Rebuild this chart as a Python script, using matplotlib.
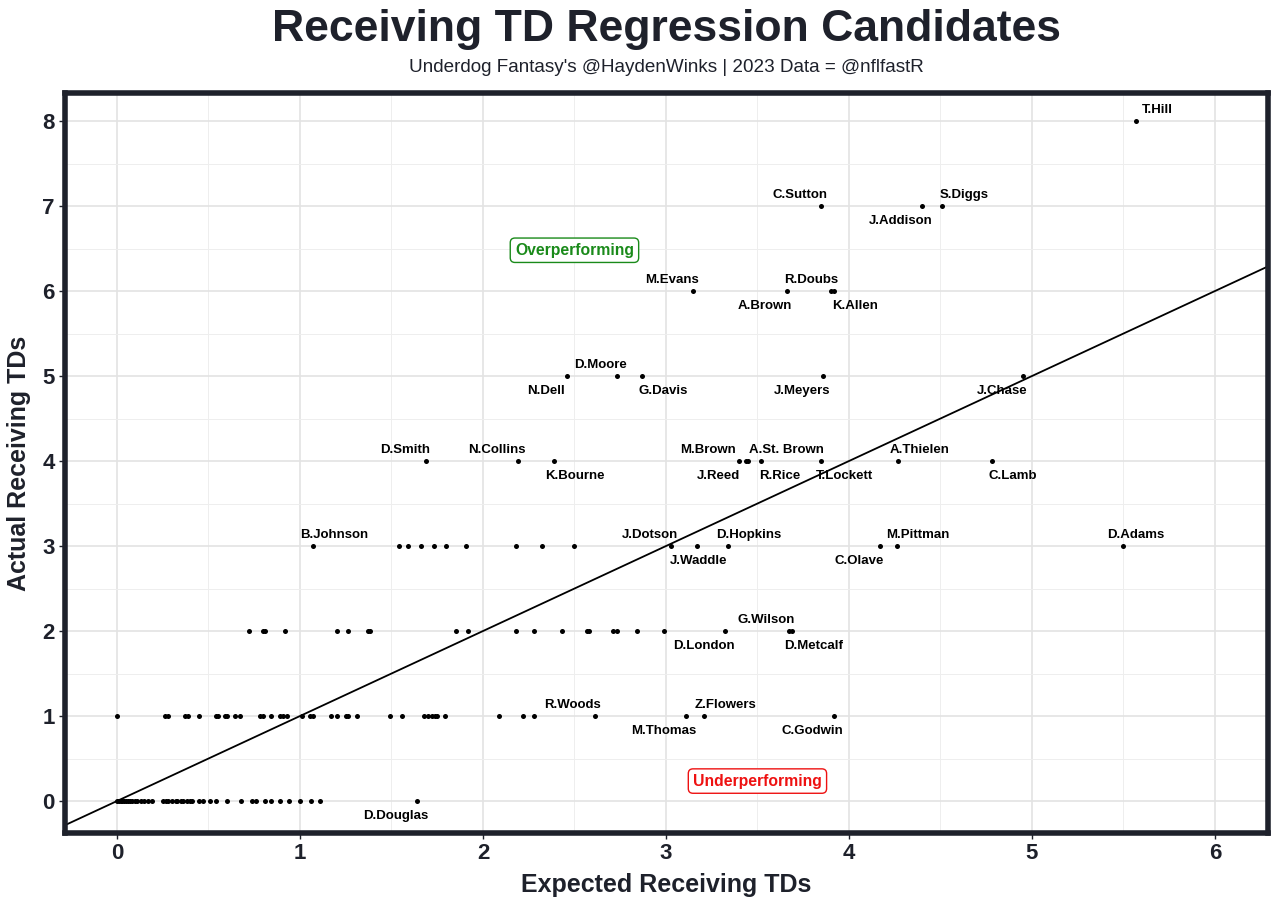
import matplotlib.pyplot as plt
import numpy as np

# labelled players: name, expected TDs, actual TDs
names = ['T.Hill', 'C.Sutton', 'S.Diggs', 'J.Addison', 'M.Evans', 'R.Doubs', 'A.Brown', 'K.Allen',
         'D.Moore', 'N.Dell', 'G.Davis', 'J.Meyers', 'J.Chase',
         'D.Smith', 'N.Collins', 'K.Bourne', 'M.Brown', 'J.Reed', 'A.St. Brown', 'R.Rice', 'T.Lockett',
         'A.Thielen', 'C.Lamb',
         'B.Johnson', 'J.Dotson', 'J.Waddle', 'D.Hopkins', 'C.Olave', 'M.Pittman', 'D.Adams',
         'G.Wilson', 'D.Metcalf', 'D.London',
         'R.Woods', 'M.Thomas', 'Z.Flowers', 'C.Godwin', 'D.Douglas']
exp_td = [5.57, 3.85, 4.51, 4.40, 3.15, 3.90, 3.66, 3.92,
          2.73, 2.46, 2.87, 3.86, 4.95,
          1.69, 2.19, 2.39, 3.40, 3.44, 3.45, 3.52, 3.85,
          4.27, 4.78,
          1.07, 3.03, 3.17, 3.34, 4.17, 4.26, 5.50,
          3.67, 3.69, 3.32,
          2.61, 3.11, 3.21, 3.92, 1.64]
act_td = [8, 7, 7, 7, 6, 6, 6, 6,
          5, 5, 5, 5, 5,
          4, 4, 4, 4, 4, 4, 4, 4,
          4, 4,
          3, 3, 3, 3, 3, 3, 3,
          2, 2, 2,
          1, 1, 1, 1, 0]

# unlabelled players, grouped by actual TDs
exp_0 = [0.0, 0.01, 0.02, 0.03, 0.04, 0.05, 0.06, 0.07, 0.08, 0.10, 0.11, 0.13, 0.15, 0.17, 0.19,
         0.25, 0.27, 0.28, 0.30, 0.32, 0.33, 0.35, 0.36, 0.38, 0.40, 0.41, 0.45, 0.47, 0.51, 0.54,
         0.60, 0.68, 0.74, 0.76, 0.81, 0.84, 0.89, 0.94, 1.00, 1.06, 1.11]
exp_1 = [0.0, 0.26, 0.28, 0.37, 0.39, 0.45, 0.54, 0.55, 0.59, 0.60, 0.645, 0.67, 0.78, 0.80, 0.84,
         0.89, 0.91, 0.93, 1.01, 1.055, 1.07, 1.17, 1.20, 1.25, 1.26, 1.31, 1.49, 1.56,
         1.68, 1.70, 1.72, 1.74, 1.75, 1.79, 2.09, 2.22, 2.28]
exp_2 = [0.72, 0.80, 0.81, 0.92, 1.20, 1.26, 1.37, 1.38, 1.85, 1.92, 2.18, 2.28, 2.43, 2.57, 2.58,
         2.71, 2.73, 2.84, 2.99]
exp_3 = [1.54, 1.59, 1.66, 1.73, 1.80, 1.91, 2.18, 2.32, 2.50]

# label offsets in pixels (dx, dy)
offsets = {'T.Hill': (21, 11), 'C.Sutton': (-21, 11), 'S.Diggs': (22, 11), 'J.Addison': (-21, -15),
           'M.Evans': (-21, 11), 'R.Doubs': (-19, 11), 'A.Brown': (-22, -15), 'K.Allen': (21, -15),
           'D.Moore': (-16, 11), 'N.Dell': (-21, -15), 'G.Davis': (21, -15), 'J.Meyers': (-21, -15),
           'J.Chase': (-21, -15), 'D.Smith': (-21, 11), 'N.Collins': (-21, 11), 'K.Bourne': (21, -15),
           'M.Brown': (-31, 11), 'J.Reed': (-28, -15), 'A.St. Brown': (38, 11), 'R.Rice': (19, -15),
           'T.Lockett': (23, -15), 'A.Thielen': (21, 11), 'C.Lamb': (21, -15), 'B.Johnson': (21, 11),
           'J.Dotson': (-21, 11), 'J.Waddle': (2, -15), 'D.Hopkins': (21, 11), 'C.Olave': (-21, -15),
           'M.Pittman': (21, 11), 'D.Adams': (12, 11), 'G.Wilson': (-22, 11), 'D.Metcalf': (21, -15),
           'D.London': (-21, -15), 'R.Woods': (-22, 11), 'M.Thomas': (-22, -15), 'Z.Flowers': (21, 11),
           'C.Godwin': (-22, -15), 'D.Douglas': (-21, -15)}

dark = '#1e212b'
plt.rcParams['font.family'] = ['Liberation Sans', 'DejaVu Sans']

fig = plt.figure(figsize=(12.8, 9.07), dpi=100)
ax = fig.add_axes([65 / 1280, 1 - 833 / 907, (1268 - 65) / 1280, (833 - 93) / 907])

ax.set_xticks(range(0, 7))
ax.set_yticks(range(0, 9))
ax.set_xticks(np.arange(-0.5, 6.5, 0.5), minor=True)
ax.set_yticks(np.arange(-0.5, 8.5, 0.5), minor=True)
ax.set_xlim(-0.284, 6.29)
ax.set_ylim(-0.376, 8.33)
ax.grid(which='major', color='#e3e3e3', linewidth=1.2, zorder=0)
ax.grid(which='minor', color='#eeeeee', linewidth=0.7, zorder=0)
ax.tick_params(which='minor', length=0)
ax.tick_params(which='major', length=4, width=1, color=dark, labelsize=16, labelcolor=dark)
for lab in ax.get_xticklabels() + ax.get_yticklabels():
    lab.set_fontweight('bold')
for sp in ax.spines.values():
    sp.set_color(dark)
    sp.set_linewidth(4)
ax.set_axisbelow(True)

ax.axline((0, 0), slope=1, color='black', linewidth=1.3, zorder=2)

for ex, yv in [(exp_0, 0), (exp_1, 1), (exp_2, 2), (exp_3, 3)]:
    ax.scatter(ex, [yv] * len(ex), s=13, color='black', zorder=3, linewidths=0)
ax.scatter(exp_td, act_td, s=13, color='black', zorder=3, linewidths=0)

for n, xv, yv in zip(names, exp_td, act_td):
    dx, dy = offsets[n]
    ax.annotate(n, (xv, yv), xytext=(dx * 0.72, dy * 0.72), textcoords='offset points',
                ha='center', va='center', fontsize=9.5, fontweight='bold', color='black', zorder=4)

ax.text(2.5, 6.48, 'Overperforming', ha='center', va='center', fontsize=11.3, fontweight='bold',
        color='#1a8a1a', bbox=dict(boxstyle='round,pad=0.3', fc='white', ec='#1a8a1a', lw=1))
ax.text(3.5, 0.235, 'Underperforming', ha='center', va='center', fontsize=11.3, fontweight='bold',
        color='#ee1111', bbox=dict(boxstyle='round,pad=0.3', fc='white', ec='#ee1111', lw=1))

ax.set_xlabel('Expected Receiving TDs', fontsize=18, fontweight='bold', color=dark, labelpad=6)
ax.set_ylabel('Actual Receiving TDs', fontsize=18, fontweight='bold', color=dark, labelpad=8)

cx = (65 + 1268) / 2 / 1280
fig.text(cx, 1 - 29 / 907, 'Receiving TD Regression Candidates', ha='center', va='center',
         fontsize=32, fontweight='bold', color=dark)
fig.text(cx, 1 - 68 / 907, "Underdog Fantasy's @HaydenWinks | 2023 Data = @nflfastR", ha='center',
         va='center', fontsize=13.6, color=dark)

fig.savefig('out.png', dpi=100)
